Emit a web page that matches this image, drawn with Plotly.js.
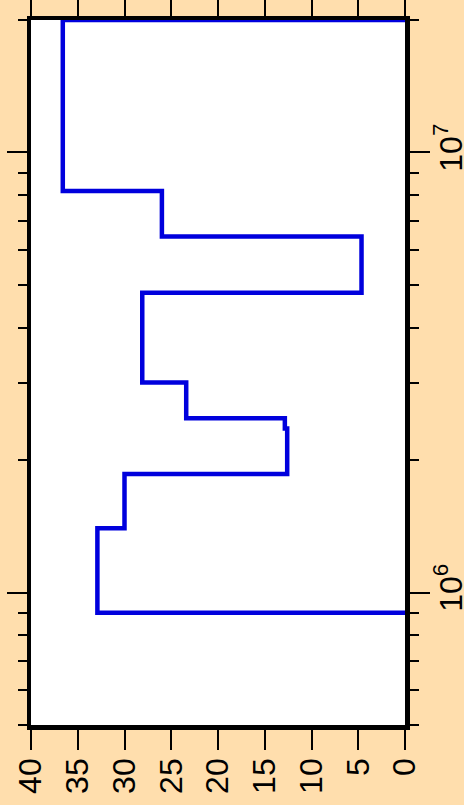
<!DOCTYPE html>
<html>
<head>
<meta charset="utf-8">
<script src="https://cdn.plot.ly/plotly-3.0.1.min.js"></script>
<style>
  html, body { margin: 0; padding: 0; background: #FFDEAD; }
  #chart { width: 464px; height: 805px; }
</style>
</head>
<body>
<div id="chart"></div>
<script>
// Bin edges along the (log) frequency axis, lower edge of each bin plus the final upper edge
const binEdges = [9.0e5, 1.40e6, 1.86e6, 2.36e6, 2.49e6, 3.0e6, 4.8e6, 6.44e6, 8.17e6, 2.0e7];
// Value of each bin
const binValues = [32.9, 30.0, 12.6, 12.85, 23.4, 28.1, 4.65, 26.0, 36.6];
// Axis ticks
const valueTicks = [0, 5, 10, 15, 20, 25, 30, 35, 40];
const logMajorTicks = [1e6, 1e7];
const logMajorLabels = ['10<sup>6</sup>', '10<sup>7</sup>'];
const logMinorTicks = [5e5, 6e5, 7e5, 8e5, 9e5, 2e6, 3e6, 4e6, 5e6, 6e6, 7e6, 8e6, 9e6, 2e7];
const valueRange = [40, 0];
const logRange = [5e5, 2e7];

// Build step path: start at 0, each bin value, back to 0 at the top edge
const xs = [0].concat(binValues, [0]);
const ys = [binEdges[0]].concat(binEdges);

const trace = {
  type: 'scatter',
  mode: 'lines',
  x: xs,
  y: ys,
  line: { shape: 'vh', color: '#0000dd', width: 4.5 },
  hoverinfo: 'skip'
};

const font = { family: 'Liberation Sans, Arial, Helvetica, sans-serif', size: 32, color: '#000' };

const layout = {
  width: 464,
  height: 805,
  paper_bgcolor: '#FFDEAD',
  plot_bgcolor: '#ffffff',
  margin: { l: 31, r: 59, t: 20, b: 80, pad: 0 },
  showlegend: false,
  font: font,
  xaxis: {
    range: valueRange,
    tickmode: 'array',
    tickvals: valueTicks,
    ticktext: valueTicks.map(String),
    tickangle: -90,
    ticks: 'outside',
    ticklen: 20,
    tickwidth: 2,
    tickcolor: '#000',
    showline: true,
    linewidth: 4.5,
    linecolor: '#000',
    mirror: 'allticks',
    showgrid: false,
    zeroline: false,
    layer: 'below traces',
    tickfont: font,
    ticklabelstandoff: -4
  },
  yaxis: {
    type: 'log',
    side: 'right',
    range: logRange.map(Math.log10),
    tickmode: 'array',
    tickvals: logMajorTicks,
    ticktext: logMajorLabels,
    tickangle: -90,
    ticks: 'outside',
    ticklen: 20,
    tickwidth: 2,
    tickcolor: '#000',
    minor: {
      tickmode: 'array',
      tickvals: logMinorTicks,
      ticks: 'outside',
      ticklen: 9,
      tickwidth: 2,
      tickcolor: '#000',
      showgrid: false
    },
    showline: true,
    linewidth: 4.5,
    linecolor: '#000',
    mirror: 'allticks',
    showgrid: false,
    zeroline: false,
    layer: 'below traces',
    tickfont: font,
    ticklabelstandoff: -6
  }
};

Plotly.newPlot('chart', [trace], layout, { displayModeBar: false, staticPlot: true });
</script>
</body>
</html>
